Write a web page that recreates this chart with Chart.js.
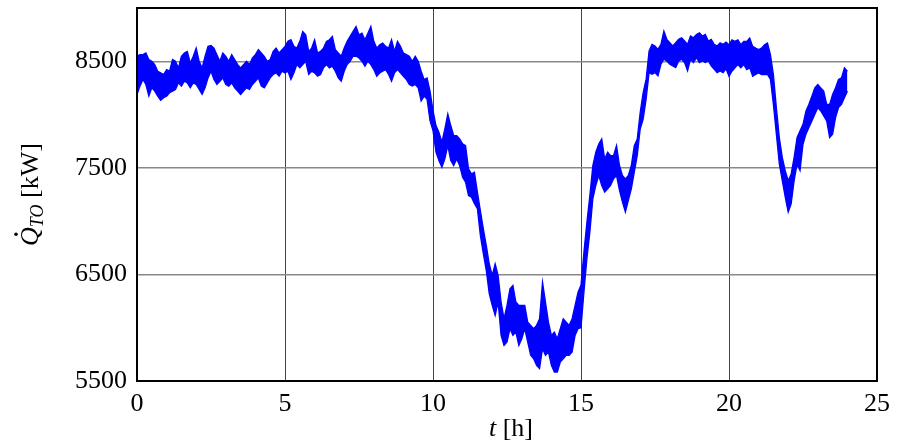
<!DOCTYPE html>
<html>
<head>
<meta charset="utf-8">
<script src="https://cdn.jsdelivr.net/npm/chart.js@4.4.1/dist/chart.umd.min.js"></script>
<style>
  body { margin: 0; background: #fff; }
  #wrap { width: 907px; height: 446px; }
</style>
</head>
<body>
<div id="wrap"><canvas id="heatChart" width="907" height="446"></canvas></div>
<script>
// sampling interval of the logged values, hours
const step = 0.1;

// upper and lower edge of the measured heat flow band at each sample, kW
const upper = [
  8547, 8562, 8562, 8578, 8516, 8500, 8469, 8407, 8391, 8376,
  8422, 8407, 8516, 8500, 8438, 8547, 8578, 8593, 8484, 8547,
  8624, 8500, 8438, 8547, 8640, 8649, 8624, 8562, 8500, 8578,
  8547, 8500, 8562, 8516, 8469, 8438, 8469, 8500, 8469, 8531,
  8562, 8609, 8578, 8547, 8500, 8516, 8593, 8624, 8578, 8609,
  8640, 8687, 8702, 8640, 8624, 8687, 8780, 8749, 8593, 8624,
  8702, 8578, 8593, 8624, 8687, 8702, 8733, 8609, 8578, 8547,
  8624, 8687, 8733, 8780, 8827, 8749, 8764, 8702, 8764, 8827,
  8687, 8624, 8656, 8671, 8640, 8624, 8702, 8593, 8687, 8640,
  8578, 8562, 8547, 8500, 8547, 8500, 8407, 8329, 8344, 8220,
  8040, 7897, 7834, 7741, 7866, 8006, 7897, 7803, 7803, 7772,
  7725, 7709, 7491, 7444, 7459, 7272, 7100, 6928, 6772, 6600,
  6491, 6600, 6491, 6241, 6084, 6209, 6366, 6397, 6241, 6209,
  6209, 6209, 6053, 6022, 5991, 6022, 6084, 6428, 6241, 6053,
  5928, 5959, 5897, 5991, 6084, 6053, 6022, 6084, 6209, 6334,
  6400, 6712, 6992, 7242, 7522, 7647, 7724, 7771, 7584, 7647,
  7615, 7615, 7709, 7522, 7428, 7397, 7428, 7522, 7709, 7771,
  8020, 8207, 8332, 8597, 8659, 8643, 8612, 8659, 8783, 8706,
  8674, 8643, 8674, 8706, 8721, 8690, 8659, 8737, 8721, 8752,
  8768, 8737, 8752, 8690, 8706, 8659, 8643, 8674, 8659, 8680,
  8656, 8702, 8687, 8702, 8656, 8687, 8687, 8718, 8640, 8624,
  8609, 8624, 8656, 8671, 8562, 8376, 8065, 7785, 7598, 7474,
  7380, 7443, 7598, 7785, 7847, 7909, 8034, 8096, 8173, 8251,
  8282, 8251, 8220, 8096, 8096, 8189, 8251, 8329, 8344, 8438,
  8407
];
const lower = [
  8189, 8267, 8329, 8282, 8173, 8251, 8220, 8173, 8133, 8158,
  8173, 8205, 8220, 8236, 8298, 8267, 8313, 8298, 8251, 8298,
  8282, 8236, 8189, 8251, 8344, 8407, 8329, 8282, 8313, 8344,
  8282, 8267, 8298, 8251, 8220, 8189, 8220, 8251, 8236, 8282,
  8313, 8344, 8267, 8251, 8298, 8344, 8376, 8391, 8360, 8407,
  8390, 8407, 8329, 8391, 8469, 8438, 8469, 8500, 8376, 8407,
  8391, 8360, 8376, 8438, 8469, 8438, 8453, 8407, 8344, 8313,
  8407, 8469, 8500, 8547, 8547, 8531, 8500, 8453, 8500, 8469,
  8422, 8360, 8391, 8407, 8422, 8376, 8313, 8391, 8422, 8391,
  8360, 8329, 8282, 8267, 8282, 8251, 8127, 8173, 8142, 7940,
  7850, 7647, 7569, 7506, 7584, 7709, 7569, 7522, 7584, 7522,
  7413, 7366, 7241, 7225, 7163, 7116, 6866, 6694, 6538, 6319,
  6209, 6116, 6241, 5928, 5834, 5866, 5991, 5928, 5959, 5834,
  5897, 5991, 5866, 5741, 5709, 5647, 5616, 5803, 5741, 5772,
  5647, 5584, 5584, 5678, 5709, 5741, 5741, 5772, 5928, 5991,
  6000, 6338, 6650, 6899, 7210, 7335, 7428, 7335, 7273, 7304,
  7335, 7397, 7428, 7288, 7179, 7086, 7195, 7304, 7460, 7615,
  7865, 7958, 8145, 8394, 8379, 8394, 8363, 8472, 8519, 8503,
  8472, 8456, 8441, 8503, 8519, 8488, 8410, 8519, 8488, 8534,
  8488, 8503, 8488, 8503, 8456, 8425, 8394, 8410, 8394, 8430,
  8360, 8407, 8438, 8469, 8438, 8469, 8422, 8438, 8360, 8376,
  8391, 8376, 8376, 8376, 8329, 8096, 7816, 7536, 7380, 7225,
  7085, 7163, 7380, 7536, 7474, 7722, 7816, 7878, 7940, 8002,
  8065, 8034, 7987, 7940, 7785, 7816, 7971, 8065, 8096, 8158,
  8220
];

const xTicks = [0, 5, 10, 15, 20, 25];
const yTicks = [5500, 6500, 7500, 8500];

const toPoints = (arr) => arr.map((v, i) => ({ x: i * step, y: v }));

const serif = "'Liberation Serif', 'DejaVu Serif', serif";
const blue = "rgb(0, 0, 255)";

// frame around the plot plus the two axis titles
const decorations = {
  id: "decorations",
  afterDraw(chart) {
    const { ctx, chartArea: a } = chart;
    ctx.save();
    ctx.strokeStyle = "#000";
    ctx.lineWidth = 2;
    ctx.strokeRect(a.left, a.top, a.right - a.left, a.bottom - a.top);

    ctx.fillStyle = "#000";
    ctx.textBaseline = "alphabetic";

    // x title: t [h]
    const big = "26px " + serif;
    const bigIt = "italic 26px " + serif;
    ctx.font = bigIt;
    const wT = ctx.measureText("t").width;
    ctx.font = big;
    const wH = ctx.measureText(" [h]").width;
    let x0 = (a.left + a.right) / 2 - (wT + wH) / 2 + 4;
    ctx.font = bigIt;
    ctx.fillText("t", x0, 436);
    ctx.font = big;
    ctx.fillText(" [h]", x0 + wT, 436);

    // y title: Q-dot with TO subscript [kW]
    ctx.translate(38, (a.top + a.bottom) / 2);
    ctx.rotate(-Math.PI / 2);
    const subIt = "italic 18px " + serif;
    ctx.font = bigIt;
    const wQ = ctx.measureText("Q").width;
    ctx.font = subIt;
    const wS = ctx.measureText("TO").width;
    ctx.font = big;
    const wK = ctx.measureText(" [kW]").width;
    let p = -(wQ + wS + wK) / 2;
    ctx.font = bigIt;
    ctx.fillText("Q", p, 0);
    ctx.beginPath();
    ctx.arc(p + wQ * 0.62, -22, 1.8, 0, Math.PI * 2);
    ctx.fill();
    p += wQ;
    ctx.font = subIt;
    ctx.fillText("TO", p, 5);
    p += wS;
    ctx.font = big;
    ctx.fillText(" [kW]", p, 0);
    ctx.restore();
  }
};

new Chart(document.getElementById("heatChart"), {
  type: "line",
  data: {
    datasets: [
      {
        // upper edge, filled down to the lower edge
        data: toPoints(upper),
        borderColor: blue,
        backgroundColor: blue,
        borderWidth: 1.3,
        pointRadius: 0,
        tension: 0,
        fill: "+1"
      },
      {
        data: toPoints(lower),
        borderColor: blue,
        borderWidth: 1.3,
        pointRadius: 0,
        tension: 0,
        fill: false
      }
    ]
  },
  options: {
    responsive: false,
    animation: false,
    layout: { padding: { top: 8, right: 30, left: 0, bottom: 0 } },
    plugins: { legend: { display: false }, tooltip: { enabled: false } },
    scales: {
      x: {
        type: "linear",
        min: 0,
        max: 25,
        afterBuildTicks: (s) => { s.ticks = xTicks.map((v) => ({ value: v })); },
        afterFit: (s) => { s.height = 65; s.paddingLeft = 0; s.paddingRight = 0; },
        grid: { color: "#444", lineWidth: 1, drawTicks: false },
        border: { display: false },
        ticks: {
          padding: 8,
          color: "#000",
          font: { family: serif, size: 26 }
        }
      },
      y: {
        min: 5500,
        max: 9000,
        afterBuildTicks: (s) => { s.ticks = yTicks.map((v) => ({ value: v })); },
        afterFit: (s) => { s.width = 137; s.paddingTop = 0; s.paddingBottom = 0; },
        grid: { color: "#888", lineWidth: 1.5, drawTicks: false },
        border: { display: false },
        ticks: {
          padding: 10,
          color: "#000",
          font: { family: serif, size: 26 },
          callback: (v) => String(v)
        }
      }
    }
  },
  plugins: [decorations]
});
</script>
</body>
</html>
